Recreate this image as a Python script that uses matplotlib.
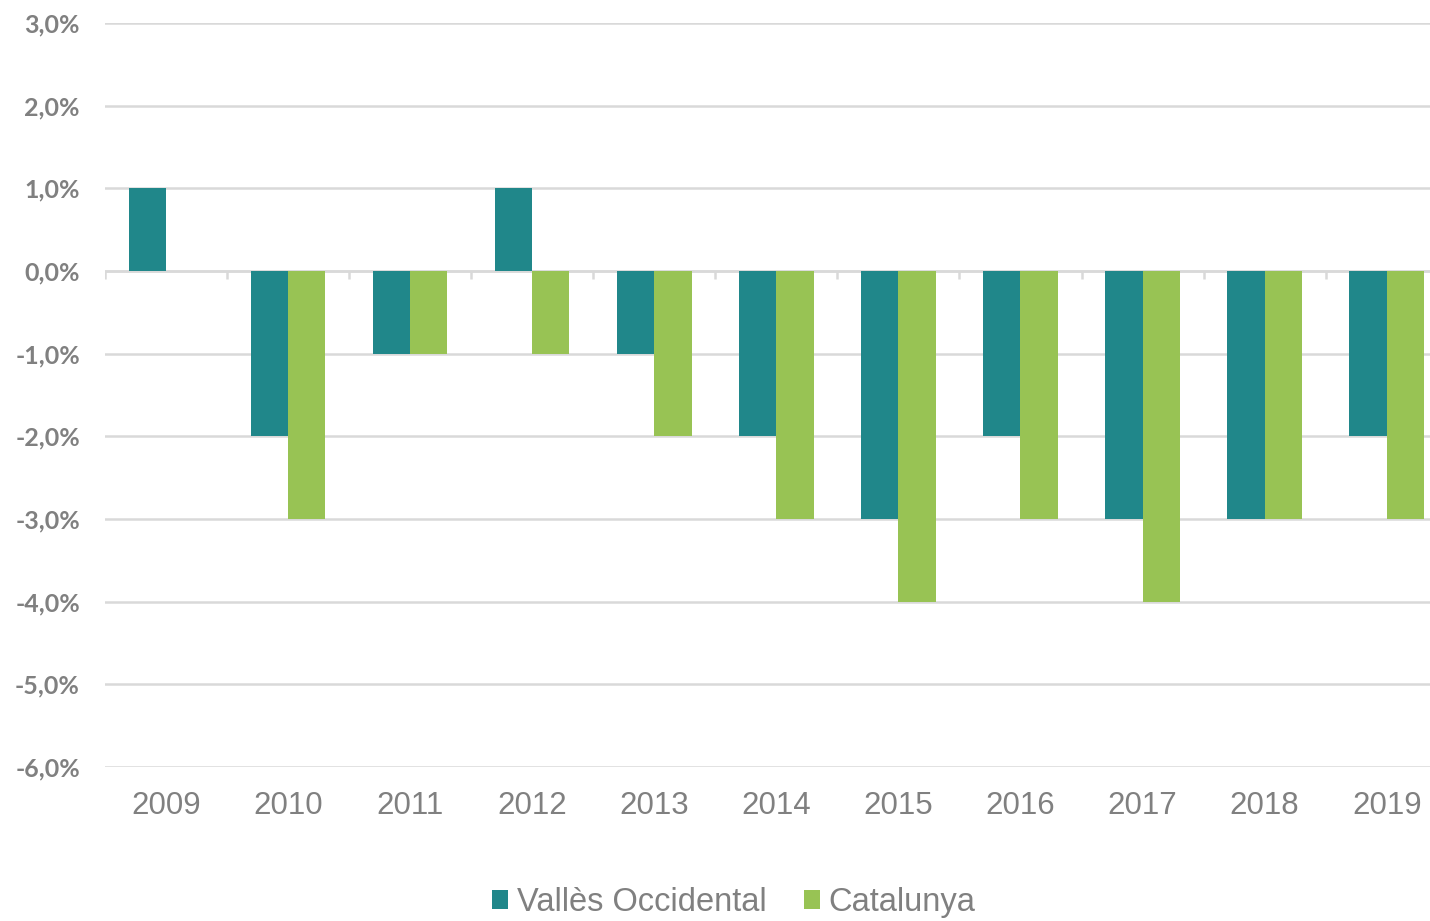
import numpy as np
import matplotlib.pyplot as plt
from matplotlib.ticker import FuncFormatter

# ------------------------------
# Data
# ------------------------------
years = ['2009', '2010', '2011', '2012', '2013', '2014', '2015', '2016', '2017', '2018', '2019']
valles = [1.0, -2.0, -1.0, 1.0, -1.0, -2.0, -3.0, -2.0, -3.0, -3.0, -2.0]
catalunya = [0.0, -3.0, -1.0, -1.0, -2.0, -3.0, -4.0, -3.0, -4.0, -3.0, -3.0]

teal = '#20878A'
green = '#98C354'
grey_txt = '#808080'
grid_col = '#D9D9D9'

# ------------------------------
# Plot
# ------------------------------
fig = plt.figure(figsize=(14.3, 9.21), dpi=100)
# plot area runs a bit past the right edge of the image, as in the original
ax = fig.add_axes([0.0734, 0.1672, 0.939, 0.8078])

x = np.arange(len(years))
w = 0.305
ax.bar(x - w/2, valles, width=w, color=teal, linewidth=0,
       label='Vallès Occidental', zorder=3)
ax.bar(x + w/2, catalunya, width=w, color=green, linewidth=0,
       label='Catalunya', zorder=3)

ax.set_xlim(-0.5, len(years) - 0.5)
ax.set_ylim(-6, 3)
ax.set_yticks(np.arange(-6, 4, 1))
ax.yaxis.set_major_formatter(FuncFormatter(lambda v, p: f'{v:.1f}%'.replace('.', ',')))
ax.grid(axis='y', color=grid_col, linewidth=1.8, zorder=0)
ax.set_axisbelow(True)

# zero axis line with category boundary ticks
ax.axhline(0, color=grid_col, linewidth=1.8, zorder=2)
bounds = np.arange(len(years)) - 0.5
ax.vlines(bounds, -0.1, 0, color=grid_col, linewidth=1.8, zorder=2)

ax.set_xticks(x)
ax.set_xticklabels(years, fontsize=22.5, color=grey_txt, family='Liberation Sans')
ax.tick_params(axis='x', length=0, pad=17)
ax.tick_params(axis='y', length=0, pad=18)
for lab in ax.get_yticklabels():
    lab.set_fontfamily('Lato')
    lab.set_fontweight('bold')
    lab.set_fontsize(18)
    lab.set_color(grey_txt)

for s in ax.spines.values():
    s.set_visible(False)

leg = fig.legend(loc='lower center', bbox_to_anchor=(0.513, -0.029), ncol=2, frameon=False,
                 prop={'family': 'Liberation Sans', 'size': 23.5},
                 handlelength=0.5, handleheight=0.5, handletextpad=0.25, columnspacing=1.15)
for t in leg.get_texts():
    t.set_color(grey_txt)

fig.savefig('out.png', dpi=100)
